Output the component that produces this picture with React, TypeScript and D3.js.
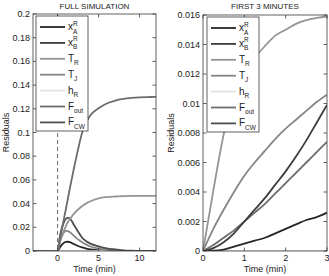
import React from 'react';
import * as d3 from 'd3';

// legend order / colours
const seriesKeys = ['xA', 'xB', 'TR', 'TJ', 'hR', 'Fout', 'FCW'];
const seriesColors = {
  xA: '#262626', xB: '#3d3d3d', TR: '#959595', TJ: '#858585',
  hR: '#e2e2e2', Fout: '#6c6c6c', FCW: '#4e4e4e',
};

// left panel: full simulation
const fullTime = [-3, 0, 0.25, 0.5, 0.75, 1, 1.25, 1.5, 2, 2.5, 3, 3.5, 4, 5, 6, 7, 8, 9, 10, 11, 12];
const fullSeries = {
  xA: [0, 0, 0.0025, 0.0052, 0.0068, 0.0076, 0.0078, 0.0074, 0.0058, 0.0042, 0.003, 0.0021, 0.0014, 0.0007, 0.0003, 0.0001, 0, 0, 0, 0, 0],
  xB: [0, 0, 0, 0, 0, 0, 0, 0, 0, 0, 0, 0, 0, 0, 0, 0, 0, 0, 0, 0, 0],
  hR: [0, 0, 0, 0, 0, 0, 0, 0, 0, 0, 0, 0, 0, 0, 0, 0, 0, 0, 0, 0, 0],
  TJ: [0, 0, 0.007, 0.012, 0.0155, 0.017, 0.0168, 0.0158, 0.0128, 0.0098, 0.0074, 0.0054, 0.0038, 0.002, 0.001, 0.0005, 0.0002, 0, 0, 0, 0],
  FCW: [0, 0, 0.011, 0.019, 0.024, 0.027, 0.028, 0.0275, 0.022, 0.0163, 0.0112, 0.0082, 0.0062, 0.0039, 0.0022, 0.0013, 0.0006, 0.0002, 0, 0, 0],
  TR: [0, 0, 0.007, 0.012, 0.0165, 0.021, 0.0245, 0.027, 0.0315, 0.035, 0.038, 0.0402, 0.042, 0.0445, 0.0455, 0.046, 0.0463, 0.0465, 0.0466, 0.0466, 0.0466],
  Fout: [0, 0, 0.0085, 0.0175, 0.0265, 0.035, 0.044, 0.053, 0.07, 0.086, 0.1, 0.1085, 0.1145, 0.1205, 0.1245, 0.1268, 0.1283, 0.1292, 0.1297, 0.1299, 0.13],
};
const fullXTicks = [0, 5, 10];
const fullYTicks = [0, 0.02, 0.04, 0.06, 0.08, 0.1, 0.12, 0.14, 0.16, 0.18, 0.2];

// right panel: first 3 minutes
const firstTime = [0, 0.25, 0.5, 0.75, 1, 1.25, 1.5, 1.75, 2, 2.25, 2.5, 2.75, 3];
const firstSeries = {
  hR: [0, 0, 0, 0, 0, 0, 0, 0, 0, 0, 0, 0, 0],
  xA: [0, 0.00002, 0.0001, 0.0003, 0.0005, 0.0007, 0.0009, 0.0012, 0.0015, 0.0018, 0.0021, 0.0023, 0.0026],
  Fout: [0, 0.0004, 0.0009, 0.0014, 0.002, 0.0026, 0.0032, 0.0039, 0.0046, 0.0053, 0.006, 0.0067, 0.0074],
  xB: [0, 0.0002, 0.0006, 0.0012, 0.002, 0.0028, 0.0036, 0.0045, 0.0054, 0.0064, 0.0075, 0.0087, 0.0099],
  TJ: [0, 0.0015, 0.0028, 0.004, 0.0051, 0.006, 0.0068, 0.0076, 0.0083, 0.0089, 0.0095, 0.0101, 0.0106],
  TR: [0, 0.0041, 0.0079, 0.0106, 0.0121, 0.0131, 0.0139, 0.0146, 0.015, 0.0154, 0.01565, 0.0158, 0.0159],
};
const firstXTicks = [0, 1, 2, 3];
const firstYTicks = [0, 0.002, 0.004, 0.006, 0.008, 0.01, 0.012, 0.014, 0.016];

const FONT = 'Liberation Sans, Arial, Helvetica, sans-serif';

const Label = ({ k, x, y }) => {
  const s = 6.5;
  if (k === 'xA' || k === 'xB') {
    return (
      <text x={x} y={y} fontSize={10} fontFamily={FONT} fill="#222">
        x
        <tspan dy={-4.5} fontSize={s}>R</tspan>
        <tspan dx={-4.7} dy={8} fontSize={s}>{k === 'xA' ? 'A' : 'B'}</tspan>
      </text>
    );
  }
  const main = k[0];
  const sub = k === 'TR' || k === 'hR' ? 'R' : k === 'TJ' ? 'J' : k === 'Fout' ? 'out' : 'CW';
  return (
    <text x={x} y={y} fontSize={10} fontFamily={FONT} fill="#222">
      {main}
      <tspan dy={3.5} fontSize={s}>{sub}</tspan>
    </text>
  );
};

const Panel = ({ id, title, time, series, xDomain, yDomain, xTicks, yTicks, left, right, top, bottom, legendX, labelX, dashed }) => {
  const x = d3.scaleLinear().domain(xDomain).range([left, right]);
  const y = d3.scaleLinear().domain(yDomain).range([bottom, top]);
  const line = d3.line<number>()
    .x((_, i) => x(time[i]))
    .y((d) => y(d))
    .curve(d3.curveMonotoneX);
  const tl = 3.5;
  const axisColor = '#3a3a3a';
  const legW = 52;
  const legTop = top + 2;
  const legH = 115;
  return (
    <g>
      <defs>
        <clipPath id={id}>
          <rect x={left} y={top} width={right - left} height={bottom - top} />
        </clipPath>
      </defs>
      <text x={(left + right) / 2} y={9} textAnchor="middle" fontSize={8} fontFamily={FONT} fill="#222">{title}</text>
      <g clipPath={`url(#${id})`}>
        {dashed && (
          <line x1={x(0)} x2={x(0)} y1={top} y2={bottom} stroke="#444" strokeWidth={0.8} strokeDasharray="4,3" />
        )}
        {Object.keys(series).map((k) => (
          <path key={k} d={line(series[k]) || ''} fill="none" stroke={seriesColors[k]} strokeWidth={1.8} />
        ))}
      </g>
      <rect x={left} y={top} width={right - left} height={bottom - top} fill="none" stroke={axisColor} strokeWidth={0.8} />
      {xTicks.map((t) => (
        <g key={'x' + t}>
          <line x1={x(t)} x2={x(t)} y1={bottom} y2={bottom - tl} stroke={axisColor} strokeWidth={0.8} />
          <line x1={x(t)} x2={x(t)} y1={top} y2={top + tl} stroke={axisColor} strokeWidth={0.8} />
          <text x={x(t)} y={bottom + 10} textAnchor="middle" fontSize={9} fontFamily={FONT} fill="#222">{t}</text>
        </g>
      ))}
      {yTicks.map((t) => (
        <g key={'y' + t}>
          <line x1={left} x2={left + tl} y1={y(t)} y2={y(t)} stroke={axisColor} strokeWidth={0.8} />
          <line x1={right} x2={right - tl} y1={y(t)} y2={y(t)} stroke={axisColor} strokeWidth={0.8} />
          <text x={left - 3} y={y(t) + 3} textAnchor="end" fontSize={9} fontFamily={FONT} fill="#222">{String(t)}</text>
        </g>
      ))}
      <text x={(left + right) / 2} y={bottom + 21} textAnchor="middle" fontSize={9} fontFamily={FONT} fill="#222">Time (min)</text>
      <text transform={`translate(${labelX},${(top + bottom) / 2}) rotate(-90)`} textAnchor="middle" fontSize={9} fontFamily={FONT} fill="#222">Residuals</text>
      <rect x={legendX} y={legTop} width={legW} height={legH} fill="#fff" stroke={axisColor} strokeWidth={0.8} />
      {seriesKeys.map((k, i) => {
        const ly = legTop + 11 + i * 15.9;
        return (
          <g key={'l' + k}>
            <line x1={legendX + 4} x2={legendX + 29} y1={ly} y2={ly} stroke={seriesColors[k]} strokeWidth={1.8} />
            <Label k={k} x={legendX + 32} y={ly + 3} />
          </g>
        );
      })}
    </g>
  );
};

export default function App() {
  return (
    <svg width={329} height={276} style={{ display: 'block', position: 'absolute', left: 0, top: 0, background: '#fff' }}>
      <Panel id="clipFull" title="FULL SIMULATION" time={fullTime} series={fullSeries}
        xDomain={[-3, 12]} yDomain={[0, 0.2]} xTicks={fullXTicks} yTicks={fullYTicks}
        left={33} right={156} top={14} bottom={251} legendX={36} labelX={9} dashed />
      <Panel id="clipFirst" title="FIRST 3 MINUTES" time={firstTime} series={firstSeries}
        xDomain={[0, 3]} yDomain={[0, 0.016]} xTicks={firstXTicks} yTicks={firstYTicks}
        left={203} right={327} top={15} bottom={251} legendX={207} labelX={174} dashed={false} />
    </svg>
  );
}
